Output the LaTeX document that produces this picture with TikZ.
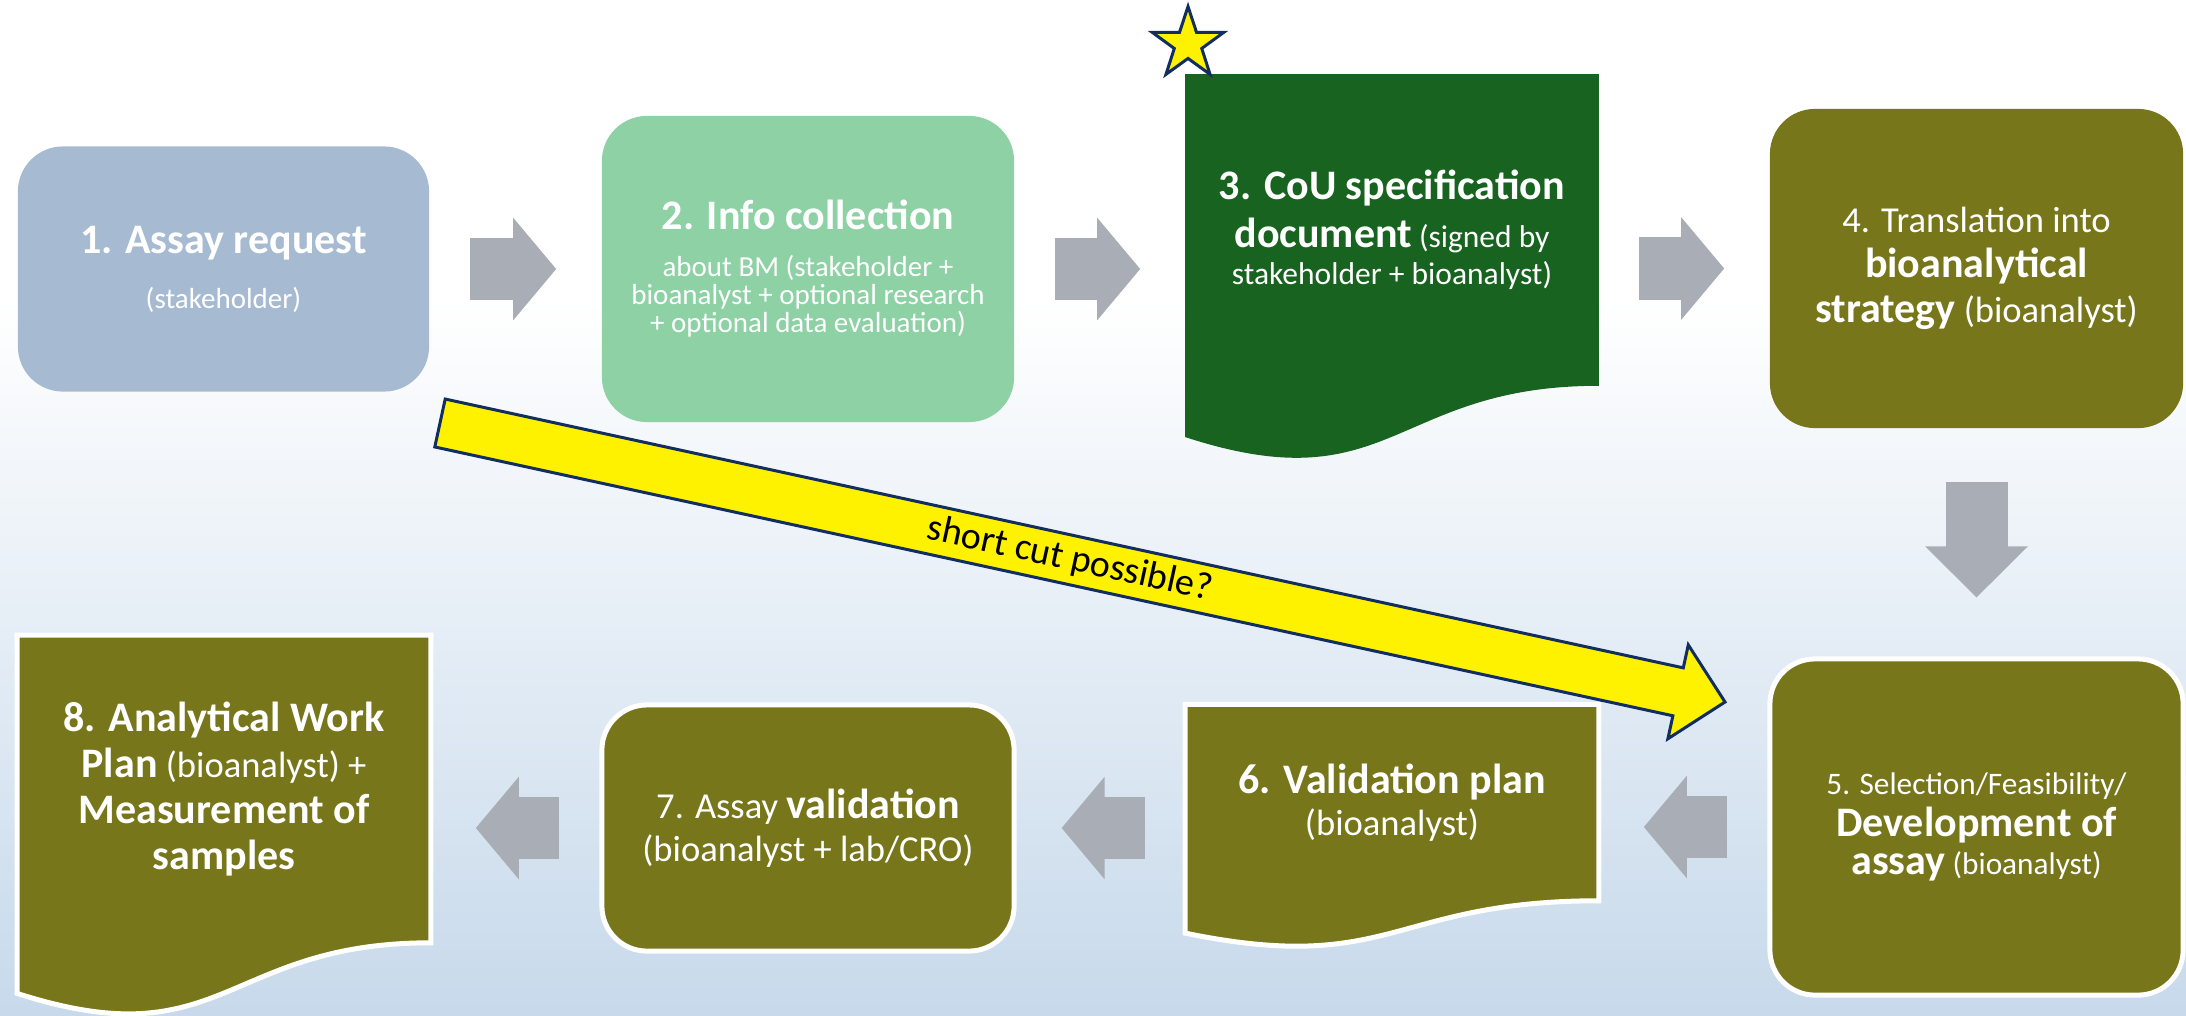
\documentclass[tikz,border=0pt]{standalone}
\usepackage{fontspec}
\setmainfont{Carlito}
\usetikzlibrary{arrows.meta,calc,shapes.geometric,backgrounds}
\definecolor{figBlue}{RGB}{166,186,209}
\definecolor{figMint}{RGB}{141,209,165}
\definecolor{figGreen}{RGB}{24,99,32}
\definecolor{figOlive}{RGB}{119,118,27}
\definecolor{figGray}{RGB}{169,173,181}
\definecolor{figNavy}{RGB}{18,46,96}
\definecolor{figSky}{RGB}{199,217,235}
\newcommand{\hd}[1]{{\fontsize{11.95}{14}\selectfont\bfseries #1}}

\begin{document}
\lineskiplimit=-\maxdimen
\begin{tikzpicture}[x=0.01cm,y=-0.01cm,
  box/.style={rounded corners=0.45cm,inner sep=0pt,align=center,text=white},
  docbox/.style={inner sep=0pt,align=center,text=white},
  docpath/.style={insert path={(#1.north west) -- (#1.north east) -- (#1.south east)
    .. controls (#1.south) and ($(#1.north)!1.3809!(#1.south)$) .. ($(#1.north west)!1.1646!(#1.south west)$) -- cycle}},
  rim/.style={draw=white,line width=0.05cm},
  flow/.style={draw=figGray,line width=0.62cm,shorten <=0.4cm,shorten >=0.45cm,
    -{Triangle[length=0.43cm,width=1.02cm,line width=1pt]}},
  cutarrow/.style={fill=yellow,draw=figNavy,line width=0.03cm,line join=miter}]
\useasboundingbox (0,0) rectangle (2186,1015);
\begin{scope}[on background layer]
\fill[white] (0,0) rectangle (2186,1015);
\shade[top color=white,bottom color=figSky] (0,300) rectangle (2186,1015);
\end{scope}
% top row
\node[box,fill=figBlue,minimum width=4.11cm,minimum height=2.45cm,font=\fontsize{8.25}{15.65}\selectfont] (b1) at (223.5,269) {\hd{1. Assay request}\\(stakeholder)};
\node[box,fill=figMint,minimum width=4.12cm,minimum height=3.06cm,font=\fontsize{8.25}{7.97}\selectfont] (b2) at (808,269) {\hd{2. Info collection}\\[5.4pt]about BM (stakeholder +\\bioanalyst + optional research\\+ optional data evaluation)};
\node[docbox,minimum width=4.12cm,minimum height=3.10cm,font=\fontsize{8.96}{10.53}\selectfont] (b3) at (1392,230) {\hd{3. CoU specification}\\[3.13pt]\hd{document} (signed by\\stakeholder + bioanalyst)};
\node[box,fill=figOlive,minimum width=4.13cm,minimum height=3.19cm,font=\fontsize{10.4}{12.8}\selectfont] (b4) at (1976.5,268.5) {4. Translation into\\\hd{bioanalytical}\\\hd{strategy} (bioanalyst)};
% bottom row
\node[box,rim,fill=figOlive,minimum width=4.13cm,minimum height=3.36cm,font=\fontsize{8.9}{10.8}\selectfont] (b5) at (1976.5,827) {5. Selection/Feasibility/\\[1.15pt]\hd{Development of}\\\hd{assay} (bioanalyst)};
\node[docbox,minimum width=4.12cm,minimum height=1.95cm,font=\fontsize{10.4}{11.95}\selectfont] (b6) at (1392,802.5) {\hd{6. Validation plan}\\(bioanalyst)};
\node[box,rim,fill=figOlive,minimum width=4.12cm,minimum height=2.46cm,font=\fontsize{10.4}{12.23}\selectfont] (b7) at (808,828) {7. Assay \hd{validation}\\(bioanalyst + lab/CRO)};
\node[docbox,minimum width=4.12cm,minimum height=3.06cm,font=\fontsize{10.4}{13.1}\selectfont] (b8) at (224,789) {\hd{8. Analytical Work}\\\hd{Plan} (bioanalyst) +\\\hd{Measurement of}\\\hd{samples}};
\begin{scope}[on background layer]
\path[fill=figGreen,docpath=b3];
\path[fill=figOlive,rim,docpath=b6];
\path[fill=figOlive,rim,docpath=b8];
\end{scope}
\node[star,star points=5,star point ratio=2.6,minimum size=0.75cm,inner sep=0pt,fill=yellow,draw=figNavy,line width=0.03cm] (flag) at (1188,44) {};
% grey flow arrows
\draw[flow] (b1) -- (b2);
\draw[flow] (b2) -- (b2 -| b3.west);
\draw[flow] (b3.east |- b4) -- (b4);
\draw[flow,shorten <=0.53cm,shorten >=0.59cm,-{Triangle[length=0.51cm,width=1.02cm,line width=1pt]}] (b4) -- (b5);
\draw[flow] (b5) -- (b5 -| b6.east);
\draw[flow] (b6.west |- b7) -- (b7);
\draw[flow] (b7) -- (b7 -| b8.east);
% short cut
\coordinate (cutfrom) at (440,423);
\coordinate (cutto) at (1725,702);
\coordinate (cuthead) at ($(cutto)!0.48cm!(cutfrom)$);
\path[cutarrow] ($(cutfrom)!0.245cm!90:(cutto)$) -- ($(cuthead)!0.245cm!-90:(cutfrom)$) -- ($(cuthead)!0.48cm!-90:(cutfrom)$) -- (cutto) -- ($(cuthead)!0.48cm!90:(cutfrom)$) -- ($(cuthead)!0.245cm!90:(cutfrom)$) -- ($(cutfrom)!0.245cm!-90:(cutto)$) -- cycle;
\path (cutfrom) -- (cutto) node[pos=0.49,sloped,font=\fontsize{10.8}{12}\selectfont] (cutnote) {short cut possible?};
\end{tikzpicture}
\end{document}
